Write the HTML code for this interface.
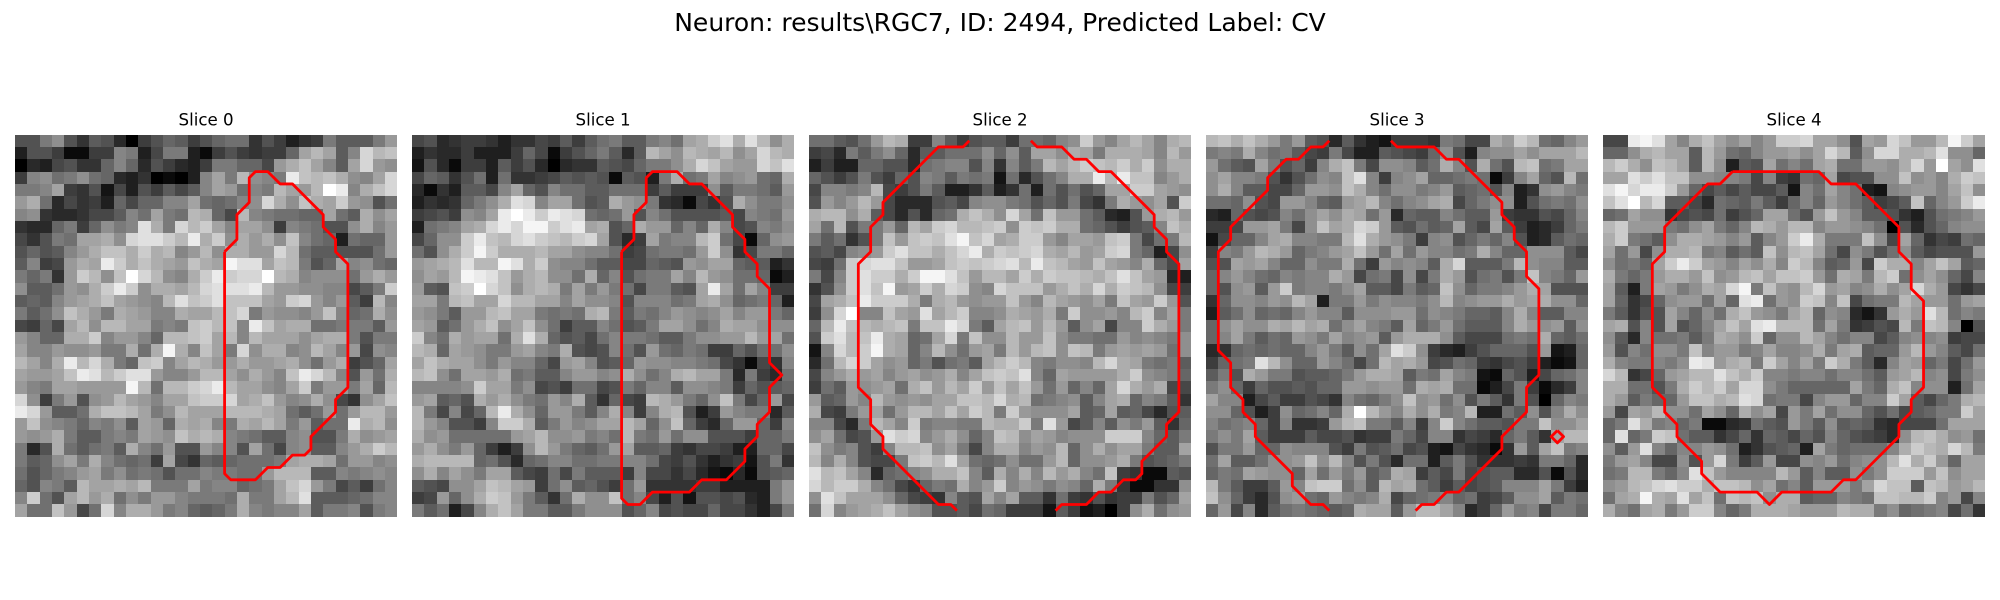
<!DOCTYPE html>
<html>
<head>
<meta charset="utf-8">
<title>Neuron slices</title>
<style>
html,body{margin:0;padding:0;background:#fff;width:2000px;height:600px;overflow:hidden}
svg{display:block}
text{font-family:"DejaVu Sans","Liberation Sans",sans-serif;fill:#000}
</style>
</head>
<body>
<svg id="figure" xmlns="http://www.w3.org/2000/svg" width="2000" height="600" viewBox="0 0 2000 600">
<rect x="0" y="0" width="2000" height="600" fill="#fff"/>
<text x="1000" y="31" text-anchor="middle" font-size="25">Neuron: results\RGC7, ID: 2494, Predicted Label: CV</text>
</svg>
<script>
const sliceLabels = ["Slice 0","Slice 1","Slice 2","Slice 3","Slice 4"];
const gridMaxValue = 25;
const slice0 = [
[8,8,12,14,8,5,9,8,4,0,6,8,10,9,6,8,10,11,11,5,8,6,3,5,6,12,9,9,9,12,15],
[3,8,8,6,1,1,6,6,13,12,3,7,12,12,3,1,6,8,6,5,6,6,10,16,18,16,9,13,21,18,19],
[0,4,3,7,8,5,5,10,13,10,4,8,6,4,3,6,12,12,10,10,7,15,17,19,16,13,9,16,21,15,14],
[6,13,14,11,12,14,11,10,4,3,5,0,1,0,3,13,16,12,18,14,13,12,23,19,18,19,17,14,13,16,21],
[12,12,13,16,6,5,8,2,7,3,8,6,9,7,9,13,16,15,11,13,12,18,16,15,18,25,23,13,17,19,21],
[15,17,11,4,7,5,6,3,10,7,10,10,13,13,16,11,10,11,13,14,21,17,14,19,17,16,20,15,14,8,11],
[13,14,5,4,4,5,7,7,9,13,11,16,12,11,18,17,10,7,18,13,12,11,11,10,10,16,11,9,17,14,16],
[5,4,4,10,12,6,10,14,12,13,22,17,12,21,18,20,16,13,16,16,14,6,13,12,11,8,8,14,17,13,15],
[7,5,8,12,11,16,16,17,14,21,22,22,20,18,23,17,20,14,17,15,17,14,19,13,11,10,3,11,10,10,15],
[8,10,8,9,13,15,17,19,19,17,20,17,18,13,15,18,14,17,17,15,15,21,18,11,9,9,8,8,8,11,15],
[9,13,6,7,15,17,16,23,20,17,19,17,16,15,19,17,16,24,22,22,16,19,18,12,8,10,16,13,14,11,10],
[12,10,12,5,15,20,18,14,19,25,21,18,14,13,17,20,23,20,21,21,25,18,17,13,14,14,14,11,15,17,15],
[14,9,9,11,15,14,17,20,23,20,14,17,17,16,18,21,22,22,22,23,18,15,15,14,14,13,13,7,9,12,20],
[9,10,9,13,15,16,17,19,16,15,14,13,18,22,19,20,22,19,19,19,16,15,20,21,15,13,15,9,6,18,13],
[12,9,11,14,19,17,15,12,17,16,15,13,13,17,16,16,18,19,21,12,15,14,14,13,15,19,13,10,11,17,14],
[7,6,10,7,16,18,14,18,18,16,16,12,13,12,19,20,18,19,13,23,19,16,17,17,11,11,12,12,12,9,15],
[15,13,10,10,17,17,20,13,15,15,13,10,18,18,19,20,16,18,13,18,16,16,16,14,16,17,17,12,8,12,12],
[16,13,13,15,14,14,15,12,12,17,11,17,24,17,13,19,16,12,21,14,17,17,13,14,18,16,13,15,7,14,13],
[18,16,13,17,23,18,21,17,12,10,19,20,13,16,18,17,15,15,17,15,15,16,17,14,11,15,17,6,8,10,16],
[16,15,15,16,19,23,22,18,20,22,22,15,13,13,15,18,18,16,14,17,15,13,19,23,21,18,13,8,15,11,17],
[15,13,12,16,16,15,15,15,15,24,18,11,18,18,20,21,23,18,16,16,14,13,16,20,12,15,15,12,16,10,18],
[21,14,6,12,15,8,14,15,18,16,15,13,16,16,19,20,20,21,16,17,19,15,13,14,17,14,7,5,14,16,19],
[23,21,15,9,9,11,17,19,19,18,16,12,14,18,16,16,16,18,18,18,17,16,11,9,11,15,11,15,18,18,15],
[15,19,14,13,12,10,13,12,14,9,16,15,10,17,16,17,13,12,17,16,18,16,12,15,9,11,11,23,17,18,14],
[15,14,15,17,12,9,9,12,13,12,16,15,14,19,17,18,17,13,12,11,9,9,13,14,8,8,12,17,14,15,16],
[12,4,8,17,11,9,11,12,9,17,13,11,15,8,8,15,13,13,8,16,11,7,13,14,9,9,13,15,17,20,18],
[12,9,10,14,16,12,17,13,11,10,11,6,16,7,5,10,9,10,11,11,11,12,16,17,17,16,11,15,15,13,14],
[11,8,10,12,13,15,16,12,14,11,12,11,8,11,11,13,12,12,11,11,15,18,18,18,9,9,13,12,13,14,13],
[10,8,13,12,9,18,16,16,17,16,18,12,12,12,16,12,13,13,10,11,12,16,19,21,15,12,7,9,6,11,13],
[13,20,11,8,16,18,15,17,11,14,12,15,15,13,12,12,12,11,17,12,12,16,18,22,9,9,9,10,11,13,13],
[16,11,11,19,15,7,11,21,13,17,17,15,12,13,10,9,10,12,17,13,12,13,13,16,9,12,12,13,8,12,13]
];
const slice1 = [
[7,8,4,5,6,6,5,3,5,5,7,6,9,6,9,11,12,9,9,12,13,11,16,17,20,22,17,22,18,14,17],
[3,5,4,4,6,3,3,3,6,10,7,1,6,8,10,12,9,4,9,18,16,14,18,17,16,18,14,16,21,18,17],
[2,8,4,1,6,6,3,9,6,8,4,0,4,5,5,9,8,7,10,12,12,14,17,21,19,16,15,15,21,19,22],
[7,10,9,5,8,11,3,11,5,5,6,7,9,8,9,8,1,9,8,3,12,17,11,12,16,13,14,15,11,10,17],
[4,1,5,3,9,9,7,13,16,10,8,13,11,11,9,9,11,11,11,6,9,6,6,6,14,9,12,12,11,9,15],
[3,5,4,5,10,12,14,17,22,21,13,16,16,11,8,9,17,15,14,12,5,4,1,7,5,8,17,14,12,12,14],
[6,7,8,6,14,13,16,23,25,23,20,23,22,21,11,10,11,15,8,13,11,8,8,8,8,9,7,13,12,11,15],
[3,11,12,13,16,17,21,23,21,24,24,20,22,23,16,17,8,10,17,15,15,10,13,10,17,13,7,8,13,12,14],
[7,10,14,14,20,23,19,18,21,22,20,19,18,20,21,16,8,4,6,16,12,13,13,18,20,11,7,1,10,14,15],
[11,8,14,17,20,24,20,17,17,17,18,16,16,14,13,13,11,6,7,11,12,12,11,15,20,14,5,7,12,12,10],
[15,16,17,18,22,18,18,24,22,17,20,14,13,13,11,9,9,7,7,10,9,8,15,14,16,16,10,9,9,3,5],
[14,16,15,18,24,23,22,19,15,17,18,14,14,11,17,10,13,8,11,12,12,16,13,18,15,14,11,11,10,1,3],
[15,9,8,19,20,25,21,19,14,17,18,17,12,16,12,15,12,11,7,12,12,9,8,16,23,16,11,16,13,6,6],
[16,16,12,18,19,16,16,21,18,18,16,16,13,16,14,14,13,8,13,13,13,11,12,16,17,14,10,11,12,10,3],
[15,14,12,9,15,15,18,19,16,16,12,11,12,11,17,18,12,9,12,11,13,15,14,13,14,16,13,15,15,12,10],
[16,15,9,11,15,17,19,14,16,19,14,11,6,9,9,13,11,8,9,12,16,16,14,11,13,17,16,16,14,14,14],
[20,13,11,17,15,16,16,11,17,22,17,10,8,9,7,11,13,12,12,11,9,9,12,14,14,15,15,18,15,16,11],
[18,17,10,16,15,14,12,12,15,16,13,12,17,8,7,8,13,11,8,15,11,10,12,11,6,6,10,8,11,11,14],
[16,19,17,16,16,14,12,15,13,13,10,7,15,16,13,8,9,10,15,14,14,13,13,12,11,7,5,1,7,5,13],
[18,19,14,11,16,16,15,17,11,12,9,9,13,15,15,13,14,17,14,11,13,17,18,16,16,12,4,12,6,4,11],
[13,13,13,13,14,20,16,16,12,14,7,8,6,11,11,7,8,12,10,13,13,9,14,14,13,12,6,10,8,9,10],
[15,16,9,10,8,17,15,17,14,12,11,15,13,17,9,5,10,7,6,18,17,15,12,10,14,19,12,7,10,15,7],
[18,12,7,13,7,10,18,23,17,14,10,15,15,12,9,13,17,13,6,13,17,18,8,3,6,15,13,12,12,4,9],
[18,15,13,8,8,6,13,20,20,17,9,12,15,13,14,16,16,18,16,10,14,19,10,6,4,10,15,15,10,6,13],
[17,14,15,11,11,11,11,11,15,16,18,14,14,15,12,13,11,18,12,11,15,11,14,14,8,8,8,6,10,10,12],
[15,17,14,12,15,10,6,3,6,14,18,15,12,10,9,11,15,16,9,9,10,6,5,7,7,6,3,3,10,10,7],
[17,18,18,18,18,10,11,8,4,10,11,13,13,11,11,12,12,13,13,11,7,6,8,5,3,5,6,2,8,12,5],
[14,17,13,16,14,12,16,16,9,7,6,11,7,12,9,9,9,6,13,7,7,5,7,4,2,1,4,1,8,9,10],
[9,8,7,14,14,16,19,18,16,15,6,11,14,9,10,8,6,11,15,5,5,5,5,6,6,3,3,3,3,12,15],
[6,7,15,10,14,17,20,19,15,12,9,5,11,17,14,14,19,11,13,7,3,8,2,8,8,7,8,4,3,12,15],
[12,9,11,3,7,13,17,19,16,12,12,9,9,12,14,14,14,8,10,13,7,8,7,7,10,7,7,5,3,7,12]
];
const slice2 = [
[11,11,9,8,11,15,18,17,6,6,13,9,6,8,9,9,6,11,11,10,13,14,20,15,13,16,18,16,13,17,18],
[6,7,4,12,9,12,14,10,4,9,9,11,11,11,14,10,14,9,16,16,14,17,16,12,17,17,17,16,13,18,15],
[3,6,3,3,10,10,8,8,4,11,12,13,13,8,13,5,13,9,12,18,16,18,20,19,18,20,17,20,14,17,17],
[10,8,6,8,12,8,6,10,8,13,12,9,12,11,12,2,11,4,8,11,13,17,17,23,18,23,19,19,13,15,17],
[7,13,13,12,13,18,7,6,8,12,9,3,3,5,9,3,5,11,3,11,8,11,8,10,16,16,20,20,16,15,14],
[8,15,13,15,18,15,7,4,4,4,8,9,7,13,14,14,12,11,8,10,8,12,7,5,12,17,15,14,16,8,20],
[17,18,18,14,17,9,7,4,8,4,10,11,17,19,17,14,21,16,11,19,15,15,11,9,4,3,8,15,17,18,15],
[16,11,18,8,12,12,15,10,18,16,20,21,18,18,19,20,14,20,19,20,17,17,11,10,8,6,8,9,13,19,17],
[12,9,11,5,8,12,19,15,19,20,19,22,24,19,21,16,17,20,20,15,13,16,16,15,19,20,12,7,11,12,18],
[8,9,7,13,14,15,20,22,19,19,17,19,21,23,17,20,19,20,21,17,16,18,15,16,20,21,12,10,3,7,14],
[7,6,11,20,21,22,22,19,15,15,16,19,20,19,20,21,22,18,23,19,18,16,15,19,16,15,13,17,10,7,16],
[12,7,13,20,22,20,20,17,20,24,24,22,19,15,18,18,16,20,17,20,19,19,18,17,19,22,19,16,15,4,3],
[5,8,14,20,22,19,24,15,16,20,17,21,20,14,13,21,19,19,19,15,17,19,17,21,17,20,19,18,14,7,6],
[7,16,17,19,23,20,20,20,17,12,17,18,15,14,15,15,19,15,13,18,16,15,14,16,12,19,16,15,20,15,8],
[6,14,21,25,13,13,19,16,15,22,16,18,20,13,13,14,17,16,15,17,12,20,14,14,15,13,18,20,13,16,12],
[10,18,23,19,18,17,18,19,12,19,19,23,21,12,9,16,18,19,15,18,15,9,14,16,7,13,13,20,17,15,12],
[8,20,22,18,19,23,17,16,10,11,16,21,12,19,14,14,18,15,15,19,14,12,12,11,11,15,13,14,13,12,14],
[2,13,21,18,20,24,17,16,10,13,18,14,11,15,16,12,18,15,18,19,14,19,18,12,15,16,15,16,15,11,14],
[4,11,18,21,20,16,14,15,10,12,8,11,12,9,16,18,20,18,13,12,14,14,13,18,21,17,16,12,11,12,9],
[7,13,15,17,15,16,13,15,16,14,15,17,13,16,19,20,19,22,13,10,16,15,15,15,15,17,20,14,13,12,10],
[6,11,9,15,14,15,16,11,17,19,15,18,16,20,15,19,16,19,15,11,15,10,13,10,16,21,17,15,17,7,7],
[15,9,10,15,13,18,15,14,15,14,16,16,19,19,18,21,17,18,11,12,13,14,9,13,16,17,10,13,12,9,5],
[17,7,6,12,15,16,11,15,18,18,16,19,16,20,18,12,20,15,14,14,14,16,9,10,16,9,10,7,4,8,9],
[13,13,7,4,12,18,16,13,20,12,13,13,12,12,18,17,17,20,12,22,15,7,9,13,9,14,12,15,9,5,10],
[14,16,11,7,8,15,22,20,21,13,15,17,14,10,13,19,18,14,16,15,13,14,14,14,20,20,20,13,10,9,12],
[19,14,12,13,8,6,13,18,18,19,14,16,12,7,13,17,17,13,15,14,18,10,14,17,14,16,16,12,9,9,16],
[18,13,17,13,8,7,7,12,19,20,18,22,16,11,10,11,14,11,11,15,18,10,14,14,15,17,12,8,9,10,12],
[22,18,19,16,13,4,10,11,13,14,17,17,19,13,9,17,13,17,13,18,15,17,13,11,19,6,5,1,1,9,8],
[21,18,20,20,17,13,11,7,5,10,12,11,17,13,15,20,13,15,14,12,14,13,10,17,12,5,1,1,5,5,14],
[14,22,19,16,16,16,14,10,7,6,5,13,9,8,16,13,16,9,9,5,11,6,5,8,5,6,6,12,8,10,16],
[11,21,13,15,16,17,19,16,14,13,8,8,9,7,11,10,6,6,6,2,9,6,2,3,0,6,14,17,11,14,15]
];
const slice3 = [
[18,19,17,19,17,15,12,15,9,8,4,9,5,3,2,6,6,6,5,12,11,7,7,17,15,20,18,11,10,13,15],
[12,13,12,17,13,11,12,9,7,6,12,7,3,3,9,8,7,6,10,14,8,3,13,14,14,16,14,16,16,16,18],
[15,11,9,8,16,12,8,10,6,13,17,19,12,7,14,14,13,9,11,17,13,8,17,11,8,18,19,11,12,16,16],
[14,16,13,13,12,8,5,8,11,14,13,19,22,13,6,13,14,16,10,10,11,12,11,1,6,13,16,10,8,18,11],
[14,17,13,9,9,7,7,10,15,15,14,19,17,13,11,14,14,12,13,15,9,10,11,8,13,3,5,14,15,13,12],
[11,11,10,14,8,7,15,15,13,10,9,15,16,18,13,11,13,14,16,17,7,10,12,14,14,3,8,11,12,11,14],
[4,3,10,8,7,8,13,11,14,16,14,17,16,11,15,4,10,9,9,13,11,9,9,15,6,5,5,8,7,10,13],
[6,6,7,15,15,16,12,7,14,19,16,17,21,20,15,9,8,11,9,10,16,9,7,16,9,6,3,4,6,10,12],
[2,7,10,10,13,16,17,13,13,12,12,18,22,17,15,14,12,6,13,14,8,10,12,10,13,8,3,4,9,11,10],
[6,13,12,15,18,17,15,10,12,13,15,16,19,15,11,16,11,15,13,13,11,12,17,13,10,10,14,14,14,9,7],
[8,8,16,15,16,13,10,10,14,12,12,17,11,6,15,13,14,13,9,17,21,9,9,9,12,18,14,13,13,9,9],
[10,13,15,13,11,10,13,12,13,13,17,15,7,11,12,7,14,7,12,17,15,8,11,12,8,12,19,13,12,10,15],
[10,8,14,15,9,15,20,12,13,13,12,14,16,9,9,7,12,9,10,19,14,10,12,12,13,15,17,16,8,8,8],
[5,10,14,14,13,15,14,18,16,3,12,12,15,12,14,13,13,12,14,18,13,14,15,15,17,15,16,17,14,14,10],
[3,9,11,14,10,11,10,13,15,13,13,9,14,14,14,15,15,11,14,13,12,10,10,9,13,17,13,9,9,13,13],
[10,14,16,14,14,17,16,18,16,17,11,14,16,13,12,9,16,10,12,15,11,9,9,9,13,17,15,14,15,9,14],
[10,13,16,12,9,11,10,15,14,12,16,13,14,15,9,15,17,17,17,14,9,7,7,7,11,12,11,17,10,9,11],
[4,5,10,11,10,11,10,10,13,15,12,9,14,11,16,22,20,14,6,4,3,6,8,10,10,10,8,15,2,3,10],
[6,10,11,12,22,18,14,10,10,15,13,11,7,11,18,16,17,15,7,8,11,10,6,5,7,8,6,3,1,2,10],
[9,12,8,17,15,12,12,8,9,9,10,12,15,17,17,16,9,12,11,16,13,12,2,1,10,8,3,7,10,11,13],
[12,14,10,6,10,8,8,9,8,10,10,15,15,14,15,15,11,17,16,17,11,11,1,3,7,12,6,1,4,6,13],
[16,13,13,3,7,9,6,6,8,7,5,13,11,10,12,14,19,14,15,11,14,8,12,9,5,12,8,0,10,13,12],
[14,14,10,8,3,6,14,10,11,13,10,17,25,18,15,13,17,14,17,12,13,18,3,3,11,9,14,8,13,17,14],
[13,11,12,13,10,6,13,5,5,6,15,18,19,12,12,9,13,6,13,20,13,11,9,9,8,12,12,19,14,14,16],
[12,14,12,16,9,6,6,6,9,7,7,8,5,6,6,12,10,7,13,13,5,7,6,4,10,12,9,5,16,18,18],
[8,12,12,15,10,10,14,13,13,13,8,6,12,8,9,11,7,8,3,2,7,5,4,1,5,15,9,16,19,12,13],
[11,16,9,9,11,14,14,15,19,14,18,13,8,12,8,4,11,11,3,9,12,8,5,5,5,6,5,12,12,10,4],
[10,12,11,16,15,14,14,10,16,11,15,12,15,9,11,17,16,6,9,7,12,7,8,9,9,4,4,8,1,8,4],
[18,12,9,6,6,9,15,13,19,20,20,11,14,9,18,16,17,11,9,6,9,7,8,9,13,13,13,16,12,6,3],
[19,14,10,6,4,8,14,15,11,10,15,13,12,13,17,7,10,11,12,13,10,11,6,7,9,14,14,16,9,12,11],
[10,15,7,13,4,9,11,12,11,10,9,10,17,16,16,9,15,18,18,16,13,4,6,10,15,12,13,7,12,12,10]
];
const slice4 = [
[7,7,23,24,22,16,13,17,19,16,14,16,13,15,20,20,21,16,16,14,8,16,15,21,19,15,15,18,24,20,16],
[10,10,14,17,18,16,16,9,18,15,11,10,13,15,15,16,14,16,21,18,9,14,21,21,17,17,18,22,14,14,10],
[18,20,17,14,19,18,16,9,18,14,3,9,8,16,11,13,11,16,17,11,11,15,15,14,17,21,15,25,16,14,22],
[16,16,22,20,22,19,19,14,14,13,13,12,7,13,6,5,11,10,16,7,8,8,14,14,19,14,15,13,17,20,19],
[22,24,21,23,23,20,15,10,7,9,7,9,7,7,9,2,13,11,16,13,11,3,2,13,14,15,15,13,16,19,14],
[19,22,25,18,21,9,9,7,4,11,10,9,12,9,6,10,13,10,15,13,11,9,6,7,9,19,10,13,15,20,23],
[10,11,16,14,14,5,7,8,7,11,6,8,10,16,16,11,8,15,19,15,13,9,9,8,5,3,8,11,12,13,15],
[18,20,15,15,15,12,11,14,16,12,10,13,18,17,15,18,18,13,15,15,14,13,11,0,8,4,8,10,13,14,14],
[17,20,12,11,9,14,17,17,16,15,13,15,9,13,15,20,23,17,12,12,12,19,14,7,16,10,5,7,6,11,10],
[16,11,15,7,14,17,17,18,12,13,9,11,9,19,14,18,19,16,11,7,14,12,8,11,14,9,7,8,8,8,15],
[14,11,12,10,16,20,23,20,16,15,13,16,14,17,13,20,18,13,9,10,15,7,20,17,17,13,16,19,16,9,10],
[17,12,10,12,15,17,17,15,19,14,15,18,19,16,19,19,20,15,11,17,16,12,18,20,11,14,16,14,10,7,13],
[16,9,3,12,16,15,12,14,17,16,21,24,12,19,15,14,18,21,15,16,13,14,17,14,16,21,17,15,7,5,7],
[16,10,5,7,10,14,15,15,11,16,10,22,23,11,15,14,20,19,13,19,7,11,12,12,18,16,15,15,11,15,16],
[12,9,5,8,8,16,13,10,14,11,17,19,15,14,12,16,18,10,14,13,4,2,5,15,17,15,22,18,11,13,12],
[16,17,8,13,8,16,8,10,13,16,19,16,22,23,18,18,18,11,16,12,5,6,8,7,18,12,19,18,13,0,8],
[14,9,4,13,11,11,12,9,12,17,16,14,20,10,14,14,18,16,13,11,13,13,7,9,13,14,13,14,6,7,7],
[15,8,13,11,14,14,12,19,13,15,15,12,13,16,13,13,14,17,12,16,17,9,10,10,15,18,15,13,9,7,11],
[17,13,12,12,13,12,14,23,22,15,17,18,12,20,16,13,16,12,20,17,12,9,4,13,16,15,10,12,7,11,15],
[21,18,5,7,10,15,16,18,18,22,19,17,20,13,13,12,13,13,11,13,13,11,9,15,16,18,13,14,7,12,14],
[17,17,11,11,8,12,17,20,18,20,16,21,21,14,12,10,10,10,10,10,16,12,10,17,19,13,14,14,3,11,16],
[17,15,9,12,10,10,15,19,19,17,18,22,21,11,12,12,7,13,15,15,10,13,13,20,16,9,7,10,12,17,18],
[15,7,16,15,18,14,14,11,16,14,10,17,14,16,7,15,12,16,11,14,14,10,8,11,7,9,10,12,12,20,16],
[10,12,22,17,12,13,10,12,1,1,4,5,11,9,8,15,12,9,14,9,10,9,5,4,7,7,7,11,16,16,16],
[10,22,10,12,20,19,11,9,9,5,7,10,5,10,9,7,10,8,13,10,8,7,6,4,14,18,19,17,14,15,11],
[14,9,15,22,13,10,13,13,15,14,11,3,5,8,9,10,3,16,12,10,11,11,11,13,17,20,18,17,21,18,12],
[12,15,16,13,7,7,14,8,15,21,12,6,9,15,7,7,14,13,15,11,13,14,14,18,22,17,20,15,10,16,16],
[11,12,18,18,12,10,13,22,19,15,13,13,13,13,18,15,9,13,9,9,14,12,14,20,20,20,15,19,14,16,16],
[14,15,18,19,21,22,20,20,17,19,19,18,14,16,11,13,9,15,15,15,12,16,21,19,19,9,19,18,15,16,18],
[11,16,17,24,17,16,22,16,19,11,19,18,19,14,17,17,9,10,10,13,12,11,19,19,18,18,20,13,15,7,13],
[17,13,11,16,17,12,15,20,20,13,10,12,17,17,17,16,15,15,15,18,17,17,12,14,10,11,12,13,7,11,5]
];
const contour0 = [[16.5,9],[17.5,8],[17.5,6],[18.5,5],[18.5,3],[19,2.5],[20,2.5],[21,3.5],[22,3.5],[24.5,6],[24.5,7],[25.5,8],[25.5,9],[26.5,10],[26.5,20],[25.5,21],[25.5,22],[23.5,24],[23.5,25],[23,25.5],[22,25.5],[21,26.5],[20,26.5],[19,27.5],[17,27.5],[16.5,27],[16.5,9]];
const contour1 = [[16.5,9],[17.5,8],[17.5,6],[18.5,5],[18.5,3],[19,2.5],[21,2.5],[22,3.5],[23,3.5],[25.5,6],[25.5,7],[26.5,8],[26.5,9],[27.5,10],[27.5,11],[28.5,12],[28.5,18],[29.5,19],[28.5,20],[28.5,22],[27.5,23],[27.5,24],[26.5,25],[26.5,26],[25,27.5],[23,27.5],[22,28.5],[19,28.5],[18,29.5],[17,29.5],[16.5,29],[16.5,9]];
const contour2Left = [[12.5,0],[12,0.5],[10,0.5],[5.5,5],[5.5,6],[4.5,7],[4.5,9],[3.5,10],[3.5,20],[4.5,21],[4.5,23],[5.5,24],[5.5,25],[10,29.5],[11,29.5],[11.5,30]];
const contour2Right = [[17.5,0],[18,0.5],[20,0.5],[21,1.5],[22,1.5],[23,2.5],[24,2.5],[27.5,6],[27.5,7],[28.5,8],[28.5,9],[29.5,10],[29.5,22],[28.5,23],[28.5,24],[26.5,26],[26.5,27],[26,27.5],[25,27.5],[24,28.5],[23,28.5],[22,29.5],[20,29.5],[19.5,30]];
const contour3Left = [[9.5,0],[9,0.5],[8,0.5],[7,1.5],[6,1.5],[4.5,3],[4.5,4],[1.5,7],[1.5,8],[0.5,9],[0.5,17],[1.5,18],[1.5,20],[2.5,21],[2.5,22],[3.5,23],[3.5,24],[6.5,27],[6.5,28],[8,29.5],[9,29.5],[9.5,30]];
const contour3Right = [[14.5,0],[15,0.5],[18,0.5],[19,1.5],[20,1.5],[23.5,5],[23.5,6],[24.5,7],[24.5,8],[25.5,9],[25.5,11],[26.5,12],[26.5,19],[25.5,20],[25.5,22],[23.5,24],[23.5,25],[20,28.5],[19,28.5],[18,29.5],[17,29.5],[16.5,30]];
const contour3Spot = [[28,23.5],[28.5,24],[28,24.5],[27.5,24],[28,23.5]];
const contour4 = [[10,2.5],[17,2.5],[18,3.5],[20,3.5],[23.5,7],[23.5,9],[24.5,10],[24.5,12],[25.5,13],[25.5,20],[24.5,21],[24.5,22],[23.5,23],[23.5,24],[20,27.5],[19,27.5],[18,28.5],[14,28.5],[13,29.5],[12,28.5],[9,28.5],[7.5,27],[7.5,26],[5.5,24],[5.5,23],[4.5,22],[4.5,21],[3.5,20],[3.5,10],[4.5,9],[4.5,7],[8,3.5],[9,3.5],[10,2.5]];

const sliceGrids = [slice0, slice1, slice2, slice3, slice4];
const sliceContours = [[contour0],[contour1],[contour2Left,contour2Right],[contour3Left,contour3Right,contour3Spot],[contour4]];

const NS = "http://www.w3.org/2000/svg";
const figure = document.getElementById("figure");
const PANEL_LEFT = 15, PANEL_STEP = 397, PANEL_TOP = 134.6, CELL = 382.2 / 31;
function xScale(panel, col) { return PANEL_LEFT + PANEL_STEP * panel + (col + 0.5) * CELL; }
function yScale(row) { return PANEL_TOP + (row + 0.5) * CELL; }
function grayScale(v) { const g = Math.round(Math.max(0, Math.min(1, v / gridMaxValue)) * 255); return "rgb(" + g + "," + g + "," + g + ")"; }

sliceLabels.forEach(function (label, p) {
  const group = document.createElementNS(NS, "g");
  
  
  figure.appendChild(group);

  const title = document.createElementNS(NS, "text");
  title.setAttribute("x", xScale(p, 15));
  title.setAttribute("y", 125.5);
  title.setAttribute("text-anchor", "middle");
  title.setAttribute("font-size", "16.67");
  
  
  title.textContent = label;
  group.appendChild(title);

  sliceGrids[p].forEach(function (rowValues, r) {
    rowValues.forEach(function (v, c) {
      const x0 = Math.round(xScale(p, c - 0.5)), x1 = Math.round(xScale(p, c + 0.5));
      const y0 = Math.round(yScale(r - 0.5)), y1 = Math.round(yScale(r + 0.5));
      const cell = document.createElementNS(NS, "rect");
      cell.setAttribute("x", x0);
      cell.setAttribute("y", y0);
      cell.setAttribute("width", x1 - x0);
      cell.setAttribute("height", y1 - y0);
      cell.setAttribute("fill", grayScale(v));
      cell.setAttribute("shape-rendering", "crispEdges");
      
      
      group.appendChild(cell);
    });
  });

  sliceContours[p].forEach(function (points) {
    const line = document.createElementNS(NS, "polyline");
    line.setAttribute("points", points.map(function (pt) { return xScale(p, pt[0]).toFixed(2) + "," + yScale(pt[1]).toFixed(2); }).join(" "));
    line.setAttribute("fill", "none");
    line.setAttribute("stroke", "#ff0000");
    line.setAttribute("stroke-width", "2.8");
    line.setAttribute("stroke-linejoin", "round");
    
    
    group.appendChild(line);
  });
});
</script>
</body>
</html>
